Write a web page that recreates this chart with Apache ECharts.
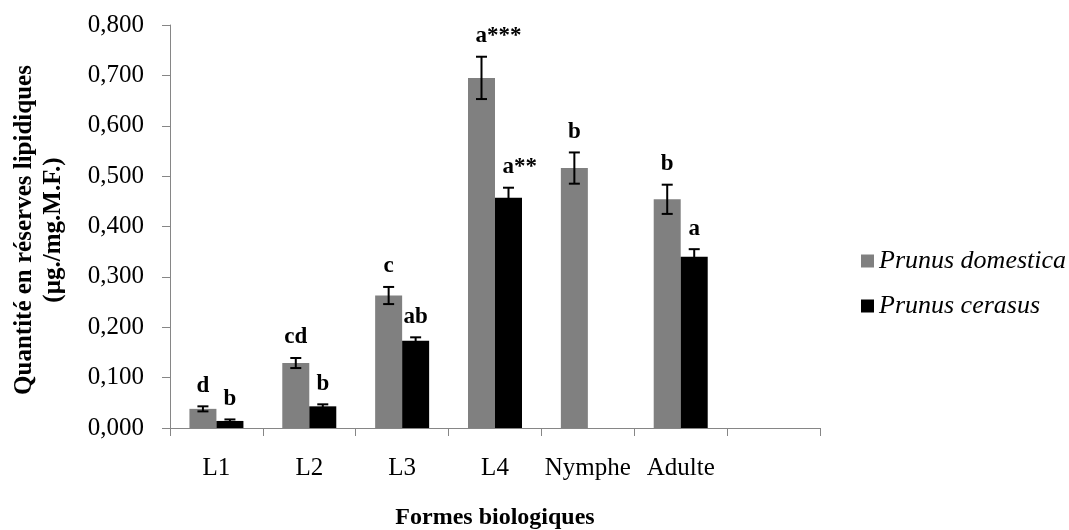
<!DOCTYPE html>
<html>
<head>
<meta charset="utf-8">
<script src="https://cdn.jsdelivr.net/npm/echarts@6/dist/echarts.min.js"></script>
<style>html,body{margin:0;padding:0;background:#fff}#c{width:1069px;height:530px}</style>
</head>
<body>
<div id="c"></div>
<script>
const categories = ['L1', 'L2', 'L3', 'L4', 'Nymphe', 'Adulte', ''];
const domesticaValues = [0.038, 0.129, 0.263, 0.695, 0.516, 0.454, null];
const domesticaErrors = [0.005, 0.010, 0.017, 0.042, 0.031, 0.029, null];
const domesticaLetters = ['d', 'cd', 'c', 'a***', 'b', 'b', ''];
const cerasusValues = [0.014, 0.043, 0.173, 0.457, null, 0.340, null];
const cerasusErrors = [0.003, 0.004, 0.007, 0.020, null, 0.015, null];
const cerasusLetters = ['b', 'b', 'ab', 'a**', '', 'a', ''];
const yTicks = [0, 0.1, 0.2, 0.3, 0.4, 0.5, 0.6, 0.7, 0.8];

const SERIF = '"Liberation Serif", "Times New Roman", serif';
const AXIS_GRAY = '#868686';
const BAR_W = 27;

function errData(vals, errs, letters) {
  const out = [];
  vals.forEach((v, i) => {
    if (v !== null) out.push([i, v, errs[i], letters[i]]);
  });
  return out;
}

function makeErrRender(offset) {
  return function (params, api) {
    const idx = api.value(0), v = api.value(1), e = api.value(2);
    const label = api.value(3);
    const top = api.coord([idx, v + e]);
    const bot = api.coord([idx, v - e]);
    const cx = top[0] + offset;
    const cap = 5.5;
    const ls = { stroke: '#000', lineWidth: 2 };
    const children = [
      { type: 'line', shape: { x1: cx, y1: top[1], x2: cx, y2: bot[1] }, style: ls },
      { type: 'line', shape: { x1: cx - cap, y1: top[1], x2: cx + cap, y2: top[1] }, style: ls },
      { type: 'line', shape: { x1: cx - cap, y1: bot[1], x2: cx + cap, y2: bot[1] }, style: ls }
    ];
    if (label) {
      const star = String(label).indexOf('*') >= 0;
      children.push({
        type: 'text',
        style: {
          text: String(label),
          x: star ? cx - 6 : cx,
          y: top[1] - 9,
          align: star ? 'left' : 'center',
          verticalAlign: 'bottom',
          fontFamily: SERIF,
          fontWeight: 'bold',
          fontSize: 23,
          fill: '#000'
        }
      });
    }
    return { type: 'group', children: children };
  };
}

const chart = echarts.init(document.getElementById('c'), null, { renderer: 'canvas' });
chart.setOption({
  animation: false,
  backgroundColor: '#fff',
  grid: { left: 170, right: 249, top: 25, bottom: 102, containLabel: false, outerBoundsMode: 'none' },
  legend: {
    data: ['Prunus domestica', 'Prunus cerasus'],
    orient: 'vertical',
    left: 856,
    top: 243,
    itemWidth: 13,
    itemHeight: 13,
    itemGap: 19,
    icon: 'rect',
    textStyle: { fontFamily: SERIF, fontStyle: 'italic', fontSize: 26, color: '#000' }
  },
  xAxis: {
    type: 'category',
    data: categories,
    boundaryGap: true,
    axisLine: { lineStyle: { color: AXIS_GRAY, width: 1 } },
    axisTick: { show: true, length: 8, lineStyle: { color: AXIS_GRAY } },
    axisLabel: { fontFamily: SERIF, fontSize: 25, color: '#000', margin: 28, interval: 0 },
    splitLine: { show: false },
    name: 'Formes biologiques',
    nameLocation: 'middle',
    nameGap: 78,
    nameTextStyle: { fontFamily: SERIF, fontWeight: 'bold', fontSize: 24, color: '#000' }
  },
  yAxis: {
    type: 'value',
    min: yTicks[0],
    max: yTicks[yTicks.length - 1],
    interval: 0.1,
    axisLine: { show: true, lineStyle: { color: AXIS_GRAY, width: 1 } },
    axisTick: { show: true, length: 8, lineStyle: { color: AXIS_GRAY } },
    axisLabel: {
      fontFamily: SERIF, fontSize: 25, color: '#000', margin: 26,
      formatter: v => v.toFixed(3).replace('.', ',')
    },
    splitLine: { show: false }
  },
  graphic: [{
    type: 'text',
    x: 39,
    y: 230,
    rotation: Math.PI / 2,
    style: {
      text: 'Quantité en réserves lipidiques\n(µg./mg.M.F.)',
      align: 'center',
      verticalAlign: 'middle',
      fontFamily: SERIF,
      fontWeight: 'bold',
      fontSize: 25,
      lineHeight: 29,
      fill: '#000'
    }
  }],
  series: [
    {
      name: 'Prunus domestica',
      type: 'bar',
      data: domesticaValues,
      barWidth: BAR_W,
      barGap: '0%',
      itemStyle: { color: '#808080' }
    },
    {
      name: 'Prunus cerasus',
      type: 'bar',
      data: cerasusValues,
      barWidth: BAR_W,
      barGap: '0%',
      itemStyle: { color: '#000000' }
    },
    {
      name: 'errD',
      type: 'custom',
      renderItem: makeErrRender(-BAR_W / 2),
      data: errData(domesticaValues, domesticaErrors, domesticaLetters),
      encode: { x: 0, y: 1 },
      z: 5
    },
    {
      name: 'errC',
      type: 'custom',
      renderItem: makeErrRender(BAR_W / 2),
      data: errData(cerasusValues, cerasusErrors, cerasusLetters),
      encode: { x: 0, y: 1 },
      z: 5
    }
  ]
});
</script>
</body>
</html>
